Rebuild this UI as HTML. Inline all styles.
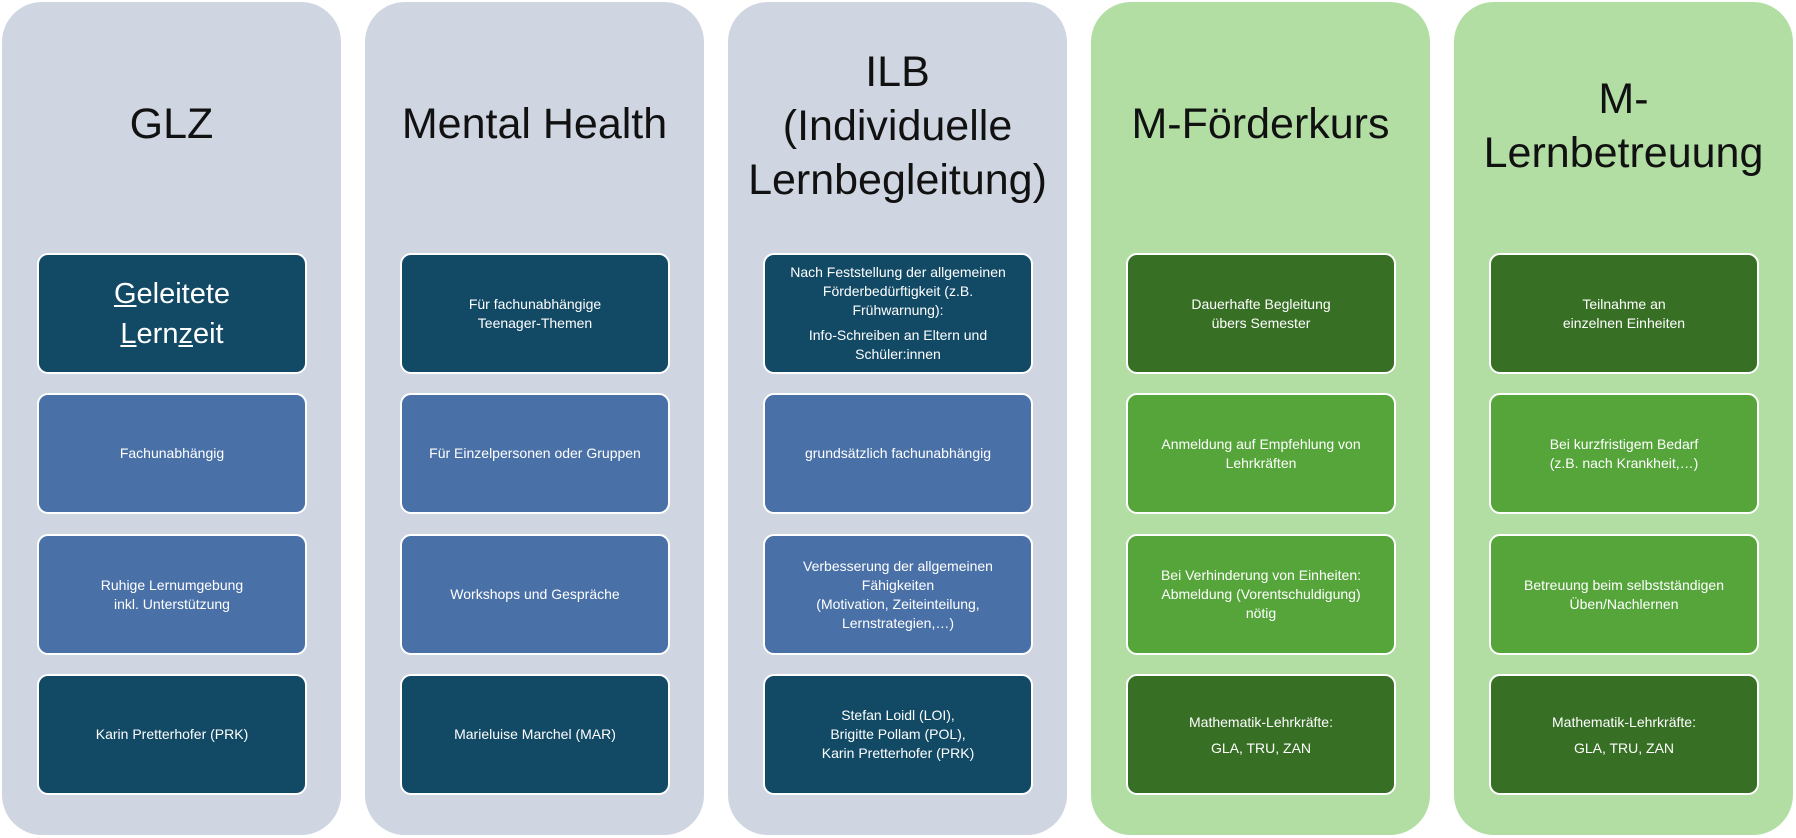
<!DOCTYPE html>
<html><head><meta charset="utf-8"><style>
body{margin:0;width:1796px;height:838px;background:#fff;font-family:"Liberation Sans",sans-serif;position:relative;overflow:hidden}
.col{position:absolute;top:2px;width:339px;height:833px;border-radius:40px}
.g{background:#cfd5e1}.gr{background:#b2dea4}
.t{position:absolute;left:0;width:339px;text-align:center;font-size:43px;line-height:54px;color:#111}
.b{position:absolute;left:35px;width:254px;height:117px;border:2px solid #fff;border-radius:11px;display:flex;align-items:center;justify-content:center;text-align:center;color:#fff;font-size:14px;line-height:19px;padding:0 6px;box-sizing:content-box}
.d{background:#124a66}.m{background:#4a71a7}.dg{background:#376f25}.mg{background:#56a53b}
</style></head><body>
<div class="col g" style="left:2px">
<div class="t" style="top:95px">GLZ</div>
<div class="b d" style="top:251px;font-size:29px;line-height:40px"><span><u>G</u>eleitete<br><u>L</u>ern<u>z</u>eit</span></div>
<div class="b m" style="top:391px">Fachunabhängig</div>
<div class="b m" style="top:532px">Ruhige Lernumgebung<br>inkl. Unterstützung</div>
<div class="b d" style="top:672px">Karin Pretterhofer (PRK)</div>
</div>
<div class="col g" style="left:365px">
<div class="t" style="top:95px">Mental Health</div>
<div class="b d" style="top:251px">Für fachunabhängige<br>Teenager-Themen</div>
<div class="b m" style="top:391px">Für Einzelpersonen oder Gruppen</div>
<div class="b m" style="top:532px">Workshops und Gespräche</div>
<div class="b d" style="top:672px">Marieluise Marchel (MAR)</div>
</div>
<div class="col g" style="left:728px">
<div class="t" style="top:43px">ILB<br>(Individuelle<br>Lernbegleitung)</div>
<div class="b d" style="top:251px"><span>Nach Feststellung der allgemeinen<br>Förderbedürftigkeit (z.B.<br>Frühwarnung):<br><span style="display:block;margin-top:6px">Info-Schreiben an Eltern und<br>Schüler:innen</span></span></div>
<div class="b m" style="top:391px">grundsätzlich fachunabhängig</div>
<div class="b m" style="top:532px">Verbesserung der allgemeinen<br>Fähigkeiten<br>(Motivation, Zeiteinteilung,<br>Lernstrategien,…)</div>
<div class="b d" style="top:672px">Stefan Loidl (LOI),<br>Brigitte Pollam (POL),<br>Karin Pretterhofer (PRK)</div>
</div>
<div class="col gr" style="left:1091px">
<div class="t" style="top:95px">M-Förderkurs</div>
<div class="b dg" style="top:251px">Dauerhafte Begleitung<br>übers Semester</div>
<div class="b mg" style="top:391px">Anmeldung auf Empfehlung von<br>Lehrkräften</div>
<div class="b mg" style="top:532px">Bei Verhinderung von Einheiten:<br>Abmeldung (Vorentschuldigung)<br>nötig</div>
<div class="b dg" style="top:672px;line-height:26px">Mathematik-Lehrkräfte:<br>GLA, TRU, ZAN</div>
</div>
<div class="col gr" style="left:1454px">
<div class="t" style="top:70px">M-<br>Lernbetreuung</div>
<div class="b dg" style="top:251px">Teilnahme an<br>einzelnen Einheiten</div>
<div class="b mg" style="top:391px">Bei kurzfristigem Bedarf<br>(z.B. nach Krankheit,…)</div>
<div class="b mg" style="top:532px">Betreuung beim selbstständigen<br>Üben/Nachlernen</div>
<div class="b dg" style="top:672px;line-height:26px">Mathematik-Lehrkräfte:<br>GLA, TRU, ZAN</div>
</div>
</body></html>
